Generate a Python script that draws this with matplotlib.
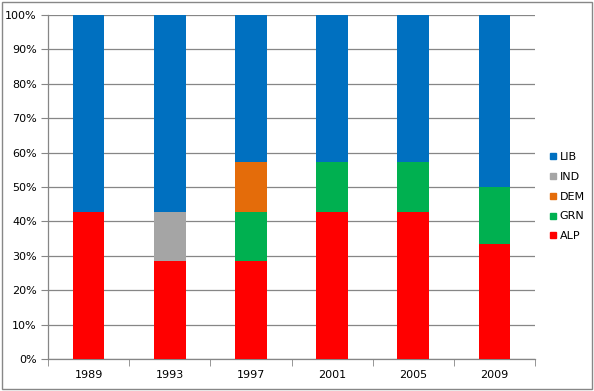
import matplotlib
matplotlib.use('Agg')
import matplotlib.pyplot as plt
import numpy as np
from matplotlib.patches import Rectangle
from matplotlib.lines import Line2D

years = ['1989', '1993', '1997', '2001', '2005', '2009']
# seat shares (percent)
alp = [42.86, 28.57, 28.57, 42.86, 42.86, 33.33]
grn = [0, 0, 14.29, 14.29, 14.29, 16.67]
dem = [0, 0, 14.29, 0, 0, 0]
ind = [0, 14.29, 0, 0, 0, 0]
lib = [57.14, 57.14, 42.86, 42.86, 42.86, 50.0]

series = [('ALP', alp, '#FF0000'), ('GRN', grn, '#00B050'), ('DEM', dem, '#E46C0A'),
          ('IND', ind, '#A5A5A5'), ('LIB', lib, '#0070C0')]

fig = plt.figure(figsize=(5.94, 3.91), dpi=100)
ax = fig.add_axes([0.0808, 0.0818, 0.82, 0.8798])

x = np.arange(len(years))
bottom = np.zeros(len(years))
for name, vals, col in series:
    ax.bar(x, vals, width=0.39, bottom=bottom, color=col, zorder=3)
    bottom += np.array(vals)

ax.set_xlim(-0.5, len(years) - 0.5)
ax.set_ylim(0, 100)
ax.set_yticks(np.arange(0, 101, 10))
ax.set_yticklabels([f'{v}%' for v in range(0, 101, 10)])
ax.yaxis.grid(True, color='#868686', linewidth=0.9, zorder=0)

ax.set_xticks(x)
ax.set_xticklabels(years)
ax.set_xticks(np.arange(-0.5, len(years)), minor=True)
ax.tick_params(axis='x', which='major', length=0, pad=8, labelsize=8)
ax.tick_params(axis='x', which='minor', length=5, color='#868686', direction='out')
ax.tick_params(axis='y', length=5, color='#868686', labelsize=8, pad=3)

for s in ['top', 'right']:
    ax.spines[s].set_visible(False)
for s in ['left', 'bottom']:
    ax.spines[s].set_color('#868686')
    ax.spines[s].set_linewidth(0.9)

handles = [Line2D([], [], marker='s', linestyle='', markersize=5, color=col, label=name)
           for name, vals, col in reversed(series)]
leg = fig.legend(handles=handles, loc='center left', bbox_to_anchor=(0.905, 0.497),
                 frameon=False, fontsize=8, handletextpad=0.1, labelspacing=0.88,
                 handlelength=1.0)

fig.patches.append(Rectangle((0.004, 0.005), 0.992, 0.99, transform=fig.transFigure,
                             fill=False, edgecolor='#878787', linewidth=1))

fig.savefig('out.png', dpi=100)
